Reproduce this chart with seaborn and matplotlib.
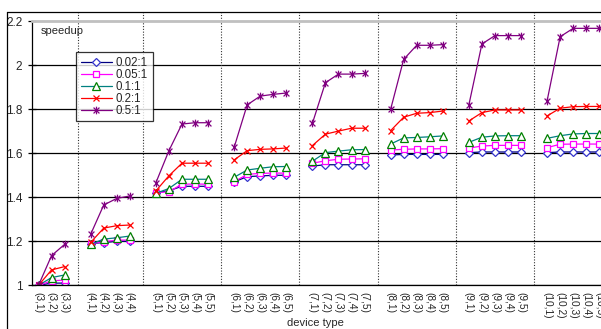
import numpy as np
import pandas as pd
import matplotlib.pyplot as plt
import seaborn as sns
from matplotlib.lines import Line2D
from matplotlib.path import Path

# device type groups (n, k): n -> number of k values
groups = [3, 4, 5, 6, 7, 8, 9, 10]
group_sizes = [3, 4, 5, 5, 5, 5, 5, 5]

series_names = ['0.02:1', '0.05:1', '0.1:1', '0.2:1', '0.5:1']

# speedup values, group by group
s_002 = [1.000, 1.010, 1.010,
         1.190, 1.194, 1.200, 1.201,
         1.420, 1.430, 1.450, 1.450, 1.450,
         1.470, 1.494, 1.497, 1.500, 1.500,
         1.542, 1.548, 1.548, 1.548, 1.548,
         1.592, 1.595, 1.595, 1.595, 1.595,
         1.603, 1.606, 1.606, 1.606, 1.606,
         1.603, 1.606, 1.606, 1.606, 1.606]
s_005 = [1.000, 1.020, 1.024,
         1.190, 1.198, 1.205, 1.206,
         1.421, 1.425, 1.460, 1.460, 1.460,
         1.471, 1.504, 1.509, 1.510, 1.510,
         1.555, 1.566, 1.573, 1.574, 1.575,
         1.615, 1.618, 1.620, 1.620, 1.621,
         1.624, 1.633, 1.636, 1.636, 1.636,
         1.626, 1.641, 1.642, 1.642, 1.642]
s_01 = [1.000, 1.035, 1.047,
        1.186, 1.210, 1.216, 1.224,
        1.418, 1.440, 1.482, 1.482, 1.482,
        1.491, 1.524, 1.532, 1.539, 1.540,
        1.564, 1.603, 1.610, 1.616, 1.617,
        1.642, 1.670, 1.672, 1.675, 1.679,
        1.650, 1.673, 1.679, 1.680, 1.680,
        1.668, 1.680, 1.688, 1.690, 1.690]
s_02 = [1.000, 1.070, 1.085,
        1.195, 1.260, 1.271, 1.274,
        1.429, 1.498, 1.555, 1.555, 1.555,
        1.570, 1.612, 1.618, 1.620, 1.624,
        1.635, 1.687, 1.701, 1.714, 1.714,
        1.703, 1.764, 1.782, 1.785, 1.792,
        1.747, 1.785, 1.797, 1.797, 1.797,
        1.770, 1.805, 1.812, 1.813, 1.813]
s_05 = [1.000, 1.135, 1.186,
        1.232, 1.365, 1.395, 1.406,
        1.466, 1.612, 1.733, 1.739, 1.739,
        1.627, 1.820, 1.860, 1.868, 1.874,
        1.736, 1.921, 1.960, 1.960, 1.963,
        1.800, 2.027, 2.091, 2.091, 2.094,
        1.820, 2.097, 2.135, 2.135, 2.135,
        1.839, 2.130, 2.168, 2.168, 2.168]
values = [s_002, s_005, s_01, s_02, s_05]

# build category positions, with a blank slot between groups
tick_pos, tick_labels, group_col, sep_pos = [], [], [], []
pos = 0
for g, n in zip(groups, group_sizes):
    for k in range(1, n + 1):
        tick_pos.append(pos)
        tick_labels.append(f'({g},{k})')
        group_col.append(g)
        pos += 1
    sep_pos.append(pos)
    pos += 1
sep_pos = sep_pos[:-1]

rows = []
for name, vals in zip(series_names, values):
    for p, g, v in zip(tick_pos, group_col, vals):
        rows.append({'pos': p, 'group': g, 'ratio': name, 'speedup': v})
df = pd.DataFrame(rows)

star = Path([(-1, -1), (1, 1), (-1, 1), (1, -1), (0, -1.3), (0, 1.3)],
            [Path.MOVETO, Path.LINETO, Path.MOVETO, Path.LINETO, Path.MOVETO, Path.LINETO])

styles = {
    '0.02:1': dict(color='#000080', mec='#3333cc', marker='D', ms=4.2),
    '0.05:1': dict(color='#ff00ff', mec='#ff00ff', marker='s', ms=5),
    '0.1:1': dict(color='#008080', mec='#008000', marker='^', ms=5.8),
    '0.2:1': dict(color='#ff0000', mec='#ff0000', marker='x', ms=5),
    '0.5:1': dict(color='#800080', mec='#800080', marker=star, ms=5.5),
}

sns.set_style('white')
plt.rcParams['font.family'] = ['Liberation Sans', 'DejaVu Sans']

fig = plt.figure(figsize=(6.01, 3.29), dpi=100)
ax = fig.add_axes([32 / 601, 43.7 / 329, 573.8 / 601, 264 / 329])

for name in series_names:
    st = styles[name]
    sns.lineplot(data=df[df['ratio'] == name], x='pos', y='speedup',
                 units='group', estimator=None, color=st['color'],
                 marker=st['marker'], mec=st['mec'], mfc='white',
                 ms=st['ms'], mew=0.9, lw=0.9, legend=False, ax=ax)

ax.set_xlim(-0.5, pos - 1 - 0.5)
ax.set_ylim(1, 2.2)
ax.set_yticks(np.arange(1, 2.21, 0.2))
ax.set_yticklabels(['1', '1.2', '1.4', '1.6', '1.8', '2', '2.2'])
ax.yaxis.grid(True, color='black', lw=0.9)
ax.get_ygridlines()[-1].set_visible(False)
ax.set_axisbelow(True)

ax.set_xticks(tick_pos)
ax.set_xticklabels(tick_labels, rotation=270, fontsize=7.3, va='top', ha='center')
ax.set_xticks(np.arange(-0.5, pos - 1, 1), minor=True)
ax.tick_params(axis='x', which='major', length=0, pad=5)
ax.tick_params(axis='x', which='minor', length=3, direction='in', color='black', width=0.8)
ax.tick_params(axis='y', length=6, direction='inout', color='black', width=0.9,
               labelsize=8.5, pad=4, left=True)

for s in sep_pos:
    ax.axvline(s, ymin=0, ymax=1.035, ls=(0, (1, 1.5)), color='#333333', lw=0.8, clip_on=False)

for side in ['left', 'bottom']:
    ax.spines[side].set_color('black')
    ax.spines[side].set_linewidth(0.9)
ax.spines['top'].set_color('#c0c0c0')
ax.spines['top'].set_linewidth(2)
ax.spines['right'].set_visible(False)

ax.set_ylabel('')
ax.set_xlabel('device type', fontsize=8)
ax.xaxis.set_label_coords((315 - 32) / 573.8, -(317.5 - 285.3) / 264)

fig.text(41 / 601, 1 - 31 / 329, 'speedup', fontsize=8, va='center', ha='left')

handles = [Line2D([], [], color=styles[n]['color'], marker=styles[n]['marker'],
                  mec=styles[n]['mec'], mfc='white', ms=styles[n]['ms'],
                  mew=0.9, lw=0.9) for n in series_names]
leg = ax.legend(handles, series_names, loc='upper left',
                bbox_to_anchor=(76 / 601, 1 - 52 / 329), bbox_transform=fig.transFigure,
                fontsize=8.3, labelspacing=0.0, handlelength=2.7, handletextpad=0.35,
                borderpad=0.4, borderaxespad=0, frameon=True, fancybox=False)
leg.get_frame().set_edgecolor('black')
leg.get_frame().set_linewidth(0.9)

# outer chart frame
fig.add_artist(Line2D([7 / 601, 1], [1 - 12 / 329] * 2, transform=fig.transFigure,
                      color='black', lw=0.9))
fig.add_artist(Line2D([7 / 601] * 2, [0, 1 - 12 / 329], transform=fig.transFigure,
                      color='black', lw=0.9))

fig.savefig('out.png', dpi=100)
